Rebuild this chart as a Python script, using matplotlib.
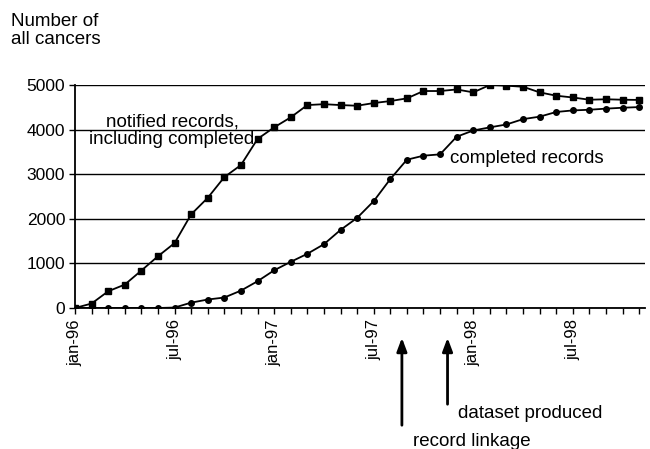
import matplotlib
matplotlib.use("Agg")
import numpy as np
from matplotlib import pyplot as plt

plt.rcParams["font.family"] = ["Liberation Sans", "DejaVu Sans"]

#%% data, jan-96 .. nov-98, monthly
months = np.arange(35)
tick_months = [0, 6, 12, 18, 24, 30]
tick_labels = ["jan-96", "jul-96", "jan-97", "jul-97", "jan-98", "jul-98"]

notified = [0, 100, 375, 525, 840, 1160, 1455, 2100, 2470, 2935, 3205, 3790,
            4050, 4275, 4550, 4570, 4550, 4535, 4595, 4640, 4700, 4865, 4865,
            4900, 4835, 5000, 4985, 4960, 4835, 4760, 4720, 4670, 4680, 4670,
            4665]
completed = [0, 0, 0, 0, 0, 0, 10, 120, 190, 235, 390, 600, 845, 1035, 1215,
             1430, 1750, 2020, 2395, 2890, 3325, 3415, 3445, 3840, 3980, 4050,
             4115, 4235, 4290, 4395, 4430, 4445, 4470, 4490, 4505]

events = [("record linkage", 19.7), ("dataset produced", 22.45)]

#%%
def px(x, y):
    # pixel position (from top-left) -> figure fraction
    return (x / 650, 1 - y / 449)

fig = plt.figure(figsize=(6.5, 4.49), dpi=100)
ax = fig.add_axes([75 / 650, 1 - 308 / 449, 570 / 650, 223 / 449])

ax.plot(months, notified, color="black", lw=1.3, marker="s", ms=4.8, zorder=3)
ax.plot(months, completed, color="black", lw=1.3, marker="o", ms=4.0, zorder=3)

ax.set_xlim(0, 34.35)
ax.set_ylim(0, 5000)
ax.set_yticks(range(0, 5001, 1000))
ax.yaxis.grid(True, color="black", lw=1.0)
ax.set_axisbelow(True)
for s in ["top", "right"]:
    ax.spines[s].set_visible(False)
ax.spines["left"].set_linewidth(1.3)
ax.spines["bottom"].set_linewidth(1.3)

ax.set_xticks(months, minor=True)
ax.set_xticks(tick_months)
ax.set_xticklabels(tick_labels, rotation=90)
ax.tick_params(axis="x", which="both", direction="out", length=4, width=1,
               labelsize=12, pad=4)
ax.tick_params(axis="y", direction="out", length=4, width=1, labelsize=12.5, pad=3)

fig.text(*px(11, 13), "Number of\nall cancers", fontsize=13.5,
         va="top", ha="left", linespacing=1.1)

fig.text(*px(172, 131), "notified records,\nincluding completed", fontsize=13.5,
         ha="center", va="center", linespacing=1.0)
fig.text(*px(450, 159), "completed records", fontsize=13.5, va="center", ha="left")

tips = {"record linkage": (335, 428, 413, 441), "dataset produced": (335, 407, 458, 413)}
for name, m in events:
    ytip, ybot, tx, ty = tips[name]
    xf = ax.transData.transform((m, 0))[0] / fig.bbox.width
    ax.annotate("", xy=(xf, 1 - ytip / 449), xycoords="figure fraction",
                xytext=(xf, 1 - ybot / 449), textcoords="figure fraction",
                arrowprops=dict(arrowstyle="-|>,head_length=0.8,head_width=0.3",
                                color="black", lw=2))
    fig.text(*px(tx, ty), name, fontsize=13.5, va="center", ha="left")

plt.savefig("out.png", dpi=100)
